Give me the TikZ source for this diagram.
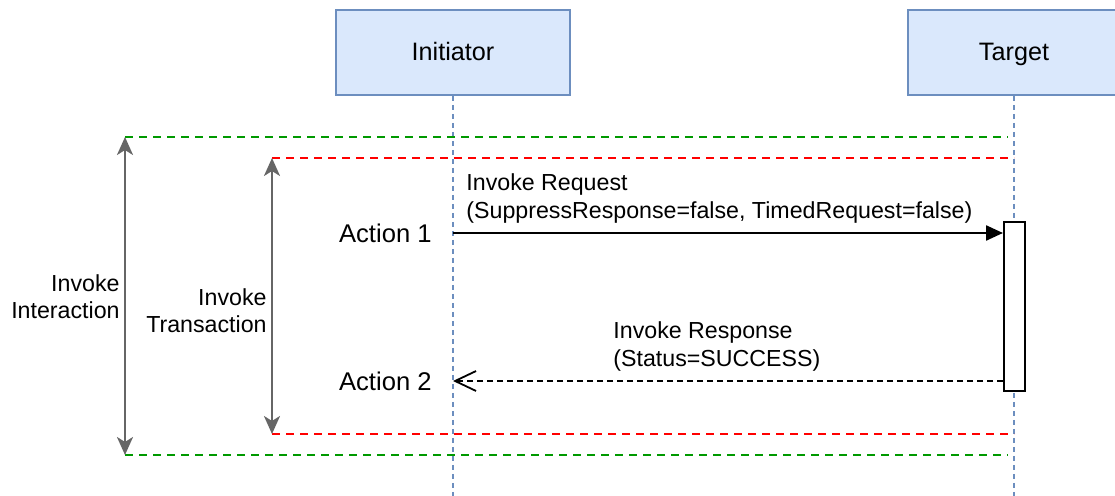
\documentclass[tikz,border=0pt]{standalone}
\usepackage{fontspec}
\setmainfont{Liberation Sans}
\usetikzlibrary{arrows.meta}

\definecolor{boxfill}{HTML}{DAE8FC}
\definecolor{boxline}{HTML}{6C8EBF}
\definecolor{spangreen}{HTML}{009900}
\definecolor{spangray}{HTML}{666666}

\begin{document}
\begin{tikzpicture}[x=0.5pt, y=-0.5pt, font=\fontsize{11.6}{13.6}\selectfont,
    actor/.style={rectangle, draw=boxline, fill=boxfill, line width=1pt, minimum height=42.5pt, inner sep=0pt, text height=2ex, text depth=0.4ex, font=\fontsize{12.6}{15}\selectfont},
    lifeline/.style={draw=boxline, line width=1pt, dash pattern=on 2.5pt off 2pt},
    interaction/.style={draw=spangreen, line width=1pt, dash pattern=on 4pt off 3pt},
    transaction/.style={draw=red, line width=1pt, dash pattern=on 4pt off 3pt},
    span/.style={draw=spangray, line width=1.3pt, {Stealth[length=9pt,width=8pt,inset=2.5pt]}-{Stealth[length=9pt,width=8pt,inset=2.5pt]}},
    actbox/.style={rectangle, draw=black, fill=white, line width=1pt, minimum width=10.5pt, minimum height=84.5pt, inner sep=0pt},
    action/.style={anchor=east, inner sep=0pt, font=\fontsize{12.8}{15}\selectfont},
    msg/.style={align=left, anchor=west, inner sep=0pt}]
    \useasboundingbox (0,0) rectangle (1115,496);
    \clip (0,0) rectangle (1115,496);

    \node[actor, minimum width=117pt] (ini) at (453,52.5) {Initiator};
    \node[actor, minimum width=106pt] (tgt) at (1014,52.5) {Target};
    \coordinate (ini-end) at (453,496);
    \coordinate (tgt-end) at (1014,496);
      \draw[lifeline] (ini) -- (ini-end);
      \draw[lifeline] (tgt) -- (tgt-end);

    \coordinate (ia-top-l) at (125,137);
    \coordinate (ia-top-r) at (1008,137);
    \coordinate (ia-bot-l) at (125,455);
    \coordinate (ia-bot-r) at (1008,455);
    \coordinate (tr-top-l) at (272,158);
    \coordinate (tr-top-r) at (1014,158);
    \coordinate (tr-bot-l) at (272,434);
    \coordinate (tr-bot-r) at (1014,434);
      \draw[interaction] (ia-top-l) -- (ia-top-r);
      \draw[interaction] (ia-bot-l) -- (ia-bot-r);
      \draw[transaction] (tr-top-l) -- (tr-top-r);
      \draw[transaction] (tr-bot-l) -- (tr-bot-r);
      \draw[span] (ia-top-l) -- (ia-bot-l);
      \draw[span] (tr-top-l) -- (tr-bot-l);

    \node[align=right, anchor=east, inner sep=0pt] (ia-label) at (120,297) {Invoke\\Interaction};
    \node[align=right, anchor=east, inner sep=0pt] (tr-label) at (267,310.5) {Invoke\\Transaction};

    \node[actbox] (act) at (1014.5,306.5) {};
    \node[action] (a1) at (432,233) {Action 1};
    \node[action] (a2) at (432,381) {Action 2};
    \coordinate (req-start) at (453,233);
    \coordinate (resp-end) at (453,381);
      \draw[-{Triangle[length=8.5pt,width=7.5pt]}, line width=1.2pt] (req-start) -- (req-start -| act.west);
      \draw[-{Straight Barb[length=10.5pt,width=10pt]}, line width=0.9pt, dash pattern=on 3pt off 2pt] (resp-end -| act.west) -- (resp-end);

    \node[msg] (req) at (466,198.5) {Invoke Request\\(SuppressResponse=false, TimedRequest=false)};
    \node[msg] (resp) at (613,346.5) {Invoke Response\\(Status=SUCCESS)};
  \end{tikzpicture}
\end{document}
